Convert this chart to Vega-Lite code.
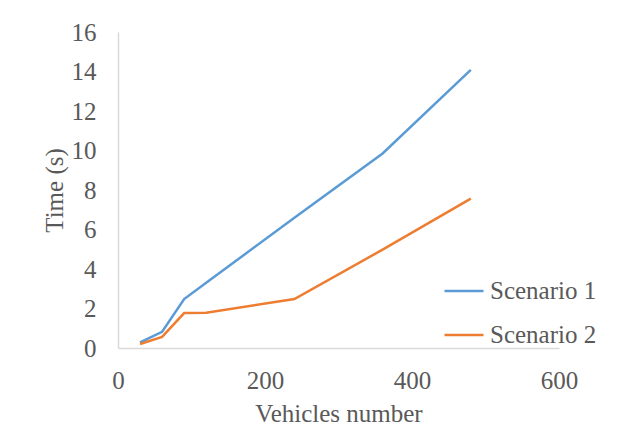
{
  "$schema": "https://vega.github.io/schema/vega-lite/v6.json",
  "autosize": "none",
  "width": 441,
  "height": 316,
  "padding": {"left": 118, "top": 32, "right": 74, "bottom": 95},
  "background": "white",
  "config": {
    "view": {"stroke": null},
    "font": "Liberation Serif",
    "axis": {
      "grid": false,
      "ticks": false,
      "domainColor": "#D9D9D9",
      "domainWidth": 1.5,
      "labelColor": "#595959",
      "titleColor": "#595959",
      "labelFont": "Liberation Serif",
      "titleFont": "Liberation Serif",
      "labelFontSize": 25,
      "titleFontSize": 25,
      "titleFontWeight": "normal"
    },
    "legend": {
      "labelFont": "Liberation Serif",
      "labelFontSize": 25,
      "labelColor": "#595959",
      "labelLimit": 300
    }
  },
  "data": {
    "values": [
      {"vehicles": 30, "time": 0.28, "scenario": "Scenario 1"},
      {"vehicles": 60, "time": 0.82, "scenario": "Scenario 1"},
      {"vehicles": 90, "time": 2.48, "scenario": "Scenario 1"},
      {"vehicles": 120, "time": 3.3, "scenario": "Scenario 1"},
      {"vehicles": 240, "time": 6.6, "scenario": "Scenario 1"},
      {"vehicles": 360, "time": 9.85, "scenario": "Scenario 1"},
      {"vehicles": 480, "time": 14.08, "scenario": "Scenario 1"},
      {"vehicles": 30, "time": 0.2, "scenario": "Scenario 2"},
      {"vehicles": 60, "time": 0.56, "scenario": "Scenario 2"},
      {"vehicles": 90, "time": 1.77, "scenario": "Scenario 2"},
      {"vehicles": 120, "time": 1.79, "scenario": "Scenario 2"},
      {"vehicles": 240, "time": 2.48, "scenario": "Scenario 2"},
      {"vehicles": 360, "time": 4.98, "scenario": "Scenario 2"},
      {"vehicles": 480, "time": 7.56, "scenario": "Scenario 2"}
    ]
  },
  "mark": {"type": "line", "strokeWidth": 2.5},
  "encoding": {
    "x": {
      "field": "vehicles",
      "type": "quantitative",
      "title": "Vehicles number",
      "scale": {"domain": [0, 600], "nice": false},
      "axis": {"values": [0, 200, 400, 600], "labelPadding": 20, "titlePadding": 8, "labelFlush": false}
    },
    "y": {
      "field": "time",
      "type": "quantitative",
      "title": "Time (s)",
      "scale": {"domain": [0, 16], "nice": false},
      "axis": {"values": [0, 2, 4, 6, 8, 10, 12, 14, 16], "labelPadding": 22, "titlePadding": 4, "labelFlush": false}
    },
    "color": {
      "field": "scenario",
      "type": "nominal",
      "scale": {"domain": ["Scenario 1", "Scenario 2"], "range": ["#5B9BD5", "#ED7D31"]},
      "legend": {
        "title": null,
        "orient": "none",
        "legendX": 325,
        "legendY": 238,
        "symbolType": "stroke",
        "symbolSize": 1521,
        "symbolStrokeWidth": 2.5,
        "labelOffset": 5,
        "rowPadding": 10
      }
    }
  }
}
